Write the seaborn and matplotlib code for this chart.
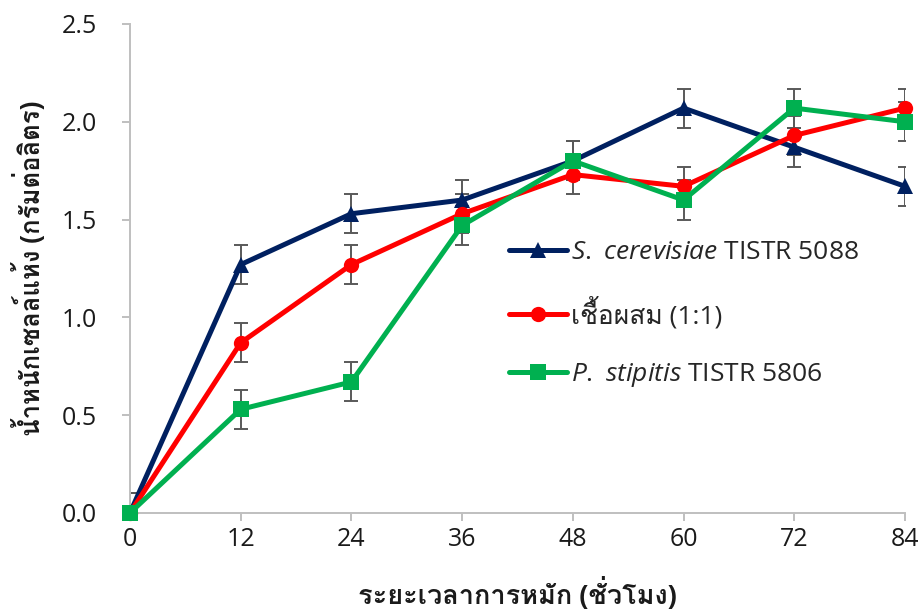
import matplotlib
matplotlib.use("Agg")
import matplotlib.pyplot as plt
from matplotlib import font_manager
from matplotlib.ft2font import FT2Font
import seaborn as sns
import pandas as pd

# ---------------- data ----------------
hours = [0, 12, 24, 36, 48, 60, 72, 84]
s_cerevisiae = [0.0, 1.27, 1.53, 1.60, 1.80, 2.07, 1.87, 1.67]
mixed = [0.0, 0.87, 1.27, 1.53, 1.73, 1.67, 1.93, 2.07]
p_stipitis = [0.0, 0.53, 0.67, 1.47, 1.80, 1.60, 2.07, 2.00]
err_s = [0.1, 0.1, 0.1, 0.1, 0.1, 0.1, 0.1, 0.1]
err_m = [0.1, 0.1, 0.1, 0.1, 0.1, 0.1, 0.1, 0.1]
err_p = [0.1, 0.1, 0.1, 0.1, 0.1, 0.1, 0.1, 0.1]
series_labels = [r"$\it{S.\ cerevisiae}$ TISTR 5088",
                 "เชื้อผสม (1:1)",
                 r"$\it{P.\ stipitis}$ TISTR 5806"]
x_ticks = [0, 12, 24, 36, 48, 60, 72, 84]
y_ticks = [0.0, 0.5, 1.0, 1.5, 2.0, 2.5]
x_label = "ระยะเวลาการหมัก (ชั่วโมง)"
y_label = "น้ำหนักเซลล์แห้ง (กรัมต่อลิตร)"

colors = ["#002060", "#FF0000", "#00B050"]
markers = ["^", "o", "s"]

# ---------------- fonts ----------------
sns.set_theme(style="white")


def find_thai_font():
    seen = set()
    for f in font_manager.fontManager.ttflist:
        if f.name in seen:
            continue
        seen.add(f.name)
        try:
            cm = FT2Font(f.fname).get_charmap()
            if 0x0E01 in cm and 0x0E49 in cm:
                return f.name
        except Exception:
            pass
    return None


thai = find_thai_font()
fam = ["Open Sans"] + ([thai] if thai else []) + ["DejaVu Sans"]
plt.rcParams["font.family"] = fam
plt.rcParams["mathtext.fontset"] = "custom"
plt.rcParams["mathtext.it"] = "Open Sans:italic"
plt.rcParams["mathtext.rm"] = "Open Sans"

# ---------------- frame ----------------
rows = []
for lab, vals in zip(series_labels, [s_cerevisiae, mixed, p_stipitis]):
    for h, v in zip(hours, vals):
        rows.append({"hour": h, "value": v, "series": lab})
df = pd.DataFrame(rows)

fig = plt.figure(figsize=(9.23, 6.12), dpi=100)
ax = fig.add_axes([0.1408, 0.1618, 0.8397, 0.799])

# error bars (behind)
for vals, errs in zip([s_cerevisiae, mixed, p_stipitis], [err_s, err_m, err_p]):
    ax.errorbar(hours, vals, yerr=errs, fmt="none", ecolor="#595959",
                elinewidth=1.4, capsize=5, capthick=1.4, zorder=1.5,
                clip_on=True)

sns.lineplot(data=df, x="hour", y="value", hue="series", style="series",
             palette=dict(zip(series_labels, colors)),
             markers=dict(zip(series_labels, markers)), dashes=False,
             linewidth=3.6, markersize=11, markeredgewidth=0,
             clip_on=False, zorder=3, ax=ax, legend=True)

ax.set_xlim(0, 84)
ax.set_ylim(0, 2.5)
ax.set_xticks(x_ticks)
ax.set_yticks(y_ticks)
ax.set_yticklabels([f"{v:.1f}" for v in y_ticks])
ax.set_xticklabels([str(v) for v in x_ticks])

for side in ["top", "right"]:
    ax.spines[side].set_visible(False)
for side in ["left", "bottom"]:
    ax.spines[side].set_color("#BFBFBF")
    ax.spines[side].set_linewidth(1.4)
ax.tick_params(axis="both", which="major", length=6, width=1.4,
               color="#BFBFBF", labelsize=18, labelcolor="#1a1a1a",
               direction="out", bottom=True, left=True)
ax.tick_params(axis="y", pad=18)
ax.tick_params(axis="x", pad=4)

ax.set_xlabel(x_label, fontsize=19.5, fontweight="bold", color="#1a1a1a",
              labelpad=18)
ax.set_ylabel(y_label, fontsize=18.5, fontweight="bold", color="#1a1a1a",
              labelpad=11)

handles, labels = ax.get_legend_handles_labels()
leg = ax.legend(handles, labels, loc="upper left",
                bbox_to_anchor=(0.475, 0.58), frameon=False, fontsize=19,
                handlelength=2.2, handletextpad=0.15, labelspacing=1.2,
                borderaxespad=0)

fig.savefig("out.png", dpi=100)
